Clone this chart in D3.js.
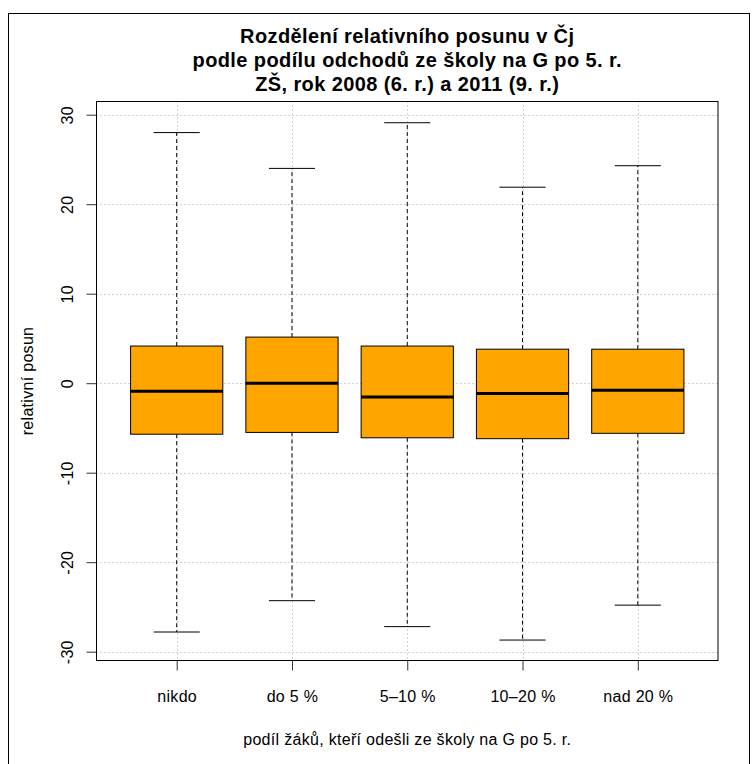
<!DOCTYPE html>
<meta charset="utf-8">
<style>
	body { margin: 0; background: #fff; }
	text { font-family: "Liberation Sans", Arial, sans-serif; fill: #000; }
	.grid { stroke: #d3d3d3; stroke-dasharray: 2,2; stroke-width: 1; }
	.whisker { stroke: #000; stroke-dasharray: 4,3; stroke-width: 1; }
	.cap { stroke: #000; stroke-width: 1; }
	.box { fill: #FFA500; stroke: #000; stroke-width: 1; }
	.median { stroke: #000; stroke-width: 3; }
	.frame { fill: none; stroke: #000; stroke-width: 1; }
	.axis path { display: none; }
	.axis line { stroke: #333; }
	.axis text { font-size: 16px; letter-spacing: 0.3px; }
	.lab { font-size: 16px; letter-spacing: 0.3px; }
</style>
<body>
<script src="https://cdn.jsdelivr.net/npm/d3@7"></script>
<script>
// hodnoty
var categories = ["nikdo", "do 5 %", "5–10 %", "10–20 %", "nad 20 %"];
var whiskerLow = [-27.8, -24.3, -27.2, -28.7, -24.8];
var q1 = [-5.7, -5.5, -6.1, -6.2, -5.6];
var median = [-0.9, 0, -1.55, -1.15, -0.8];
var q3 = [4.15, 5.15, 4.15, 3.8, 3.8];
var whiskerHigh = [28, 24, 29.1, 21.9, 24.3];
var yTicks = [-30, -20, -10, 0, 10, 20, 30];
var titleLines = ["Rozdělení relativního posunu v Čj",
                  "podle podílu odchodů ze školy na G po 5. r.",
                  "ZŠ, rok 2008 (6. r.) a 2011 (9. r.)"];

(function(){
	var width = 752, height = 764,
		left = 96, right = 718.5, top = 101, bottom = 661;

	var svg = d3.select("body").append("svg")
		.attr("width", width)
		.attr("height", height);

	// vnější rámeček
	svg.append("rect")
		.attr("x", 8.5).attr("y", 13.5)
		.attr("width", 741).attr("height", 800)
		.attr("fill", "none").attr("stroke", "#000");

	var x = d3.scaleLinear().domain([0.3, 5.7]).range([left, right]),
		y = d3.scaleLinear().domain([-31.04, 31.53]).range([bottom, top]);

	var data = categories.map(function(c, i) {
		return { i: i + 1, name: c, lo: whiskerLow[i], q1: q1[i], med: median[i], q3: q3[i], hi: whiskerHigh[i] };
	});

	var g = svg.append("g");

	// mřížka
	g.selectAll(".gh").data(yTicks).enter().append("line")
		.attr("class", "grid")
		.attr("x1", left).attr("x2", right)
		.attr("y1", function(d) { return Math.round(y(d)) + 0.5; })
		.attr("y2", function(d) { return Math.round(y(d)) + 0.5; });
	g.selectAll(".gv").data(data).enter().append("line")
		.attr("class", "grid")
		.attr("y1", top).attr("y2", bottom)
		.attr("x1", function(d) { return Math.round(x(d.i)) + 0.5; })
		.attr("x2", function(d) { return Math.round(x(d.i)) + 0.5; });

	var bw = 0.4, cw = 0.2;
	var b = g.selectAll(".bp").data(data).enter().append("g");

	b.append("line").attr("class", "whisker")
		.attr("x1", function(d) { return x(d.i); }).attr("x2", function(d) { return x(d.i); })
		.attr("y1", function(d) { return y(d.q3); }).attr("y2", function(d) { return y(d.hi); });
	b.append("line").attr("class", "whisker")
		.attr("x1", function(d) { return x(d.i); }).attr("x2", function(d) { return x(d.i); })
		.attr("y1", function(d) { return y(d.q1); }).attr("y2", function(d) { return y(d.lo); });
	b.append("line").attr("class", "cap")
		.attr("x1", function(d) { return x(d.i - cw); }).attr("x2", function(d) { return x(d.i + cw); })
		.attr("y1", function(d) { return y(d.hi); }).attr("y2", function(d) { return y(d.hi); });
	b.append("line").attr("class", "cap")
		.attr("x1", function(d) { return x(d.i - cw); }).attr("x2", function(d) { return x(d.i + cw); })
		.attr("y1", function(d) { return y(d.lo); }).attr("y2", function(d) { return y(d.lo); });
	b.append("rect").attr("class", "box")
		.attr("x", function(d) { return x(d.i - bw); })
		.attr("width", function(d) { return x(d.i + bw) - x(d.i - bw); })
		.attr("y", function(d) { return y(d.q3); })
		.attr("height", function(d) { return y(d.q1) - y(d.q3); });
	b.append("line").attr("class", "median")
		.attr("x1", function(d) { return x(d.i - bw); }).attr("x2", function(d) { return x(d.i + bw); })
		.attr("y1", function(d) { return y(d.med); }).attr("y2", function(d) { return y(d.med); });

	g.append("rect").attr("class", "frame")
		.attr("x", left + 0.5).attr("y", top + 0.5)
		.attr("width", right - left - 1).attr("height", bottom - top - 1);

	// osy
	var ya = svg.append("g").attr("class", "axis")
		.attr("transform", "translate(" + (left + 0.5) + ",0)")
		.call(d3.axisLeft(y).tickValues(yTicks).tickSize(10).tickFormat(String));
	ya.selectAll("text")
		.attr("transform", "rotate(-90)")
		.attr("text-anchor", "middle")
		.attr("x", 0).attr("y", -24).attr("dy", 0);

	svg.append("g").attr("class", "axis")
		.attr("transform", "translate(0," + (bottom - 0.5) + ")")
		.call(d3.axisBottom(x).tickValues([1, 2, 3, 4, 5])
			.tickFormat(function(i) { return categories[i - 1]; })
			.tickSize(10).tickPadding(20));

	// titulky
	svg.append("g").selectAll("text").data(titleLines).enter().append("text")
		.attr("x", (left + right) / 2)
		.attr("y", function(d, i) { return 43 + i * 24; })
		.attr("text-anchor", "middle")
		.style("font-weight", "bold").style("font-size", "20px").style("letter-spacing", "0.4px")
		.text(function(d) { return d; });

	svg.append("text").attr("class", "lab")
		.attr("x", (left + right) / 2).attr("y", 745)
		.attr("text-anchor", "middle")
		.text("podíl žáků, kteří odešli ze školy na G po 5. r.");

	svg.append("text").attr("class", "lab")
		.attr("transform", "translate(33," + ((top + bottom) / 2) + ") rotate(-90)")
		.attr("text-anchor", "middle")
		.text("relativní posun");
})();
</script>
